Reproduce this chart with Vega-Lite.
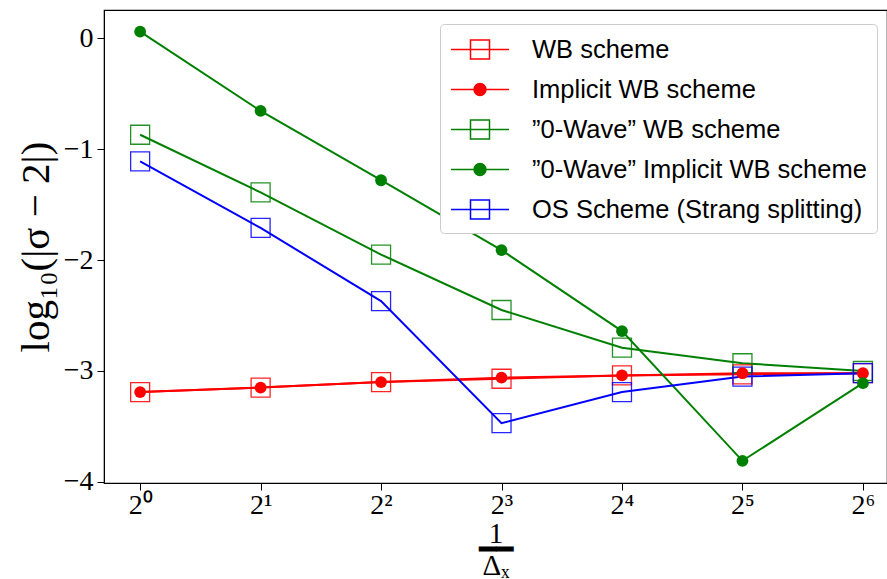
{
  "$schema": "https://vega.github.io/schema/vega-lite/v6.json",
  "autosize": "none",
  "width": 783,
  "height": 473,
  "padding": {"left": 104, "top": 10, "right": 0, "bottom": 96},
  "background": "white",
  "config": {
    "view": {"stroke": "black", "strokeWidth": 1.2},
    "axis": {"grid": false, "domainColor": "black", "tickColor": "black", "labelColor": "black", "titleColor": "black", "labelFont": "Liberation Serif", "titleFont": "Liberation Serif", "tickSize": 7, "labelFontSize": 28, "titleFontWeight": "normal"}
  },
  "data": {"values": [
    {"s": "WB scheme", "k": 0, "y": -3.19},
    {"s": "WB scheme", "k": 1, "y": -3.15},
    {"s": "WB scheme", "k": 2, "y": -3.10},
    {"s": "WB scheme", "k": 3, "y": -3.07},
    {"s": "WB scheme", "k": 4, "y": -3.04},
    {"s": "WB scheme", "k": 5, "y": -3.03},
    {"s": "WB scheme", "k": 6, "y": -3.02},
    {"s": "Implicit WB scheme", "k": 0, "y": -3.19},
    {"s": "Implicit WB scheme", "k": 1, "y": -3.15},
    {"s": "Implicit WB scheme", "k": 2, "y": -3.10},
    {"s": "Implicit WB scheme", "k": 3, "y": -3.06},
    {"s": "Implicit WB scheme", "k": 4, "y": -3.04},
    {"s": "Implicit WB scheme", "k": 5, "y": -3.02},
    {"s": "Implicit WB scheme", "k": 6, "y": -3.02},
    {"s": "”0-Wave” WB scheme", "k": 0, "y": -0.87},
    {"s": "”0-Wave” WB scheme", "k": 1, "y": -1.39},
    {"s": "”0-Wave” WB scheme", "k": 2, "y": -1.95},
    {"s": "”0-Wave” WB scheme", "k": 3, "y": -2.45},
    {"s": "”0-Wave” WB scheme", "k": 4, "y": -2.79},
    {"s": "”0-Wave” WB scheme", "k": 5, "y": -2.93},
    {"s": "”0-Wave” WB scheme", "k": 6, "y": -3.0},
    {"s": "”0-Wave” Implicit WB scheme", "k": 0, "y": 0.06},
    {"s": "”0-Wave” Implicit WB scheme", "k": 1, "y": -0.655},
    {"s": "”0-Wave” Implicit WB scheme", "k": 2, "y": -1.28},
    {"s": "”0-Wave” Implicit WB scheme", "k": 3, "y": -1.91},
    {"s": "”0-Wave” Implicit WB scheme", "k": 4, "y": -2.64},
    {"s": "”0-Wave” Implicit WB scheme", "k": 5, "y": -3.81},
    {"s": "”0-Wave” Implicit WB scheme", "k": 6, "y": -3.11},
    {"s": "OS Scheme (Strang splitting)", "k": 0, "y": -1.11},
    {"s": "OS Scheme (Strang splitting)", "k": 1, "y": -1.71},
    {"s": "OS Scheme (Strang splitting)", "k": 2, "y": -2.37},
    {"s": "OS Scheme (Strang splitting)", "k": 3, "y": -3.47},
    {"s": "OS Scheme (Strang splitting)", "k": 4, "y": -3.19},
    {"s": "OS Scheme (Strang splitting)", "k": 5, "y": -3.05},
    {"s": "OS Scheme (Strang splitting)", "k": 6, "y": -3.02}
  ]},
  "encoding": {
    "x": {"field": "k", "type": "quantitative", "scale": {"domain": [-0.3, 6.2], "nice": false, "zero": false},
      "axis": {"values": [0, 1, 2, 3, 4, 5, 6], "labelExpr": "'2' + ['⁰','¹','²','³','⁴','⁵','⁶'][datum.value]", "labelPadding": 1, "title": ["1", "━━", "Δₓ"], "titleFontSize": 29, "titleLineHeight": 16, "titlePadding": 0}},
    "y": {"field": "y", "type": "quantitative", "scale": {"domain": [-4.01, 0.255], "nice": false, "zero": false},
      "axis": {"values": [-4, -3, -2, -1, 0], "format": "d", "labelExpr": "replace(datum.label, '-', '−')", "labelPadding": 4, "title": "log₁₀(|σ − 2|)", "titleFontSize": 41, "titlePadding": 6}},
    "color": {"field": "s", "type": "nominal",
      "scale": {"domain": ["WB scheme", "Implicit WB scheme", "”0-Wave” WB scheme", "”0-Wave” Implicit WB scheme", "OS Scheme (Strang splitting)"], "range": ["#ff0000", "#ff0000", "#008000", "#008000", "#0000ff"]}}
  },
  "layer": [
    {
      "mark": {"type": "line", "strokeWidth": 2},
      "encoding": {
        "color": {"field": "s", "type": "nominal",
          "legend": {"title": null, "orient": "none", "legendX": 336, "legendY": 14, "labelFont": "Liberation Sans", "labelFontSize": 25.5, "labelColor": "black", "labelLimit": 500, "labelOffset": 51, "symbolSize": 841, "symbolStrokeWidth": 1.5, "rowPadding": 11, "padding": 10, "fillColor": "white", "strokeColor": "#cccccc", "cornerRadius": 4,
            "encode": {"symbols": {"update": {
              "shape": {"signal": "test(/Implicit/, datum.value) ? 'M-1,0H3M1.41,0A0.41,0.41,0,1,1,0.59,0A0.41,0.41,0,1,1,1.41,0Z' : 'M-1,0H3M0.345,-0.655H1.655V0.655H0.345Z'"},
              "fill": {"signal": "test(/Implicit/, datum.value) ? scale('color', datum.value) : 'white'"},
              "fillOpacity": {"signal": "test(/Implicit/, datum.value) ? 1 : 0"},
              "stroke": {"signal": "scale('color', datum.value)"},
              "strokeWidth": {"value": 1.5},
              "opacity": {"value": 1}
            }}}}}
      }
    },
    {
      "transform": [{"filter": "!test(/Implicit/, datum.s)"}],
      "mark": {"type": "point", "shape": "square", "filled": false, "size": 361, "strokeWidth": 1.3, "opacity": 0.85},
      "encoding": {"color": {"field": "s", "type": "nominal", "legend": null}}
    },
    {
      "transform": [{"filter": "test(/Implicit/, datum.s)"}],
      "mark": {"type": "point", "shape": "circle", "filled": true, "size": 140, "opacity": 1},
      "encoding": {"color": {"field": "s", "type": "nominal", "legend": null}}
    }
  ]
}
